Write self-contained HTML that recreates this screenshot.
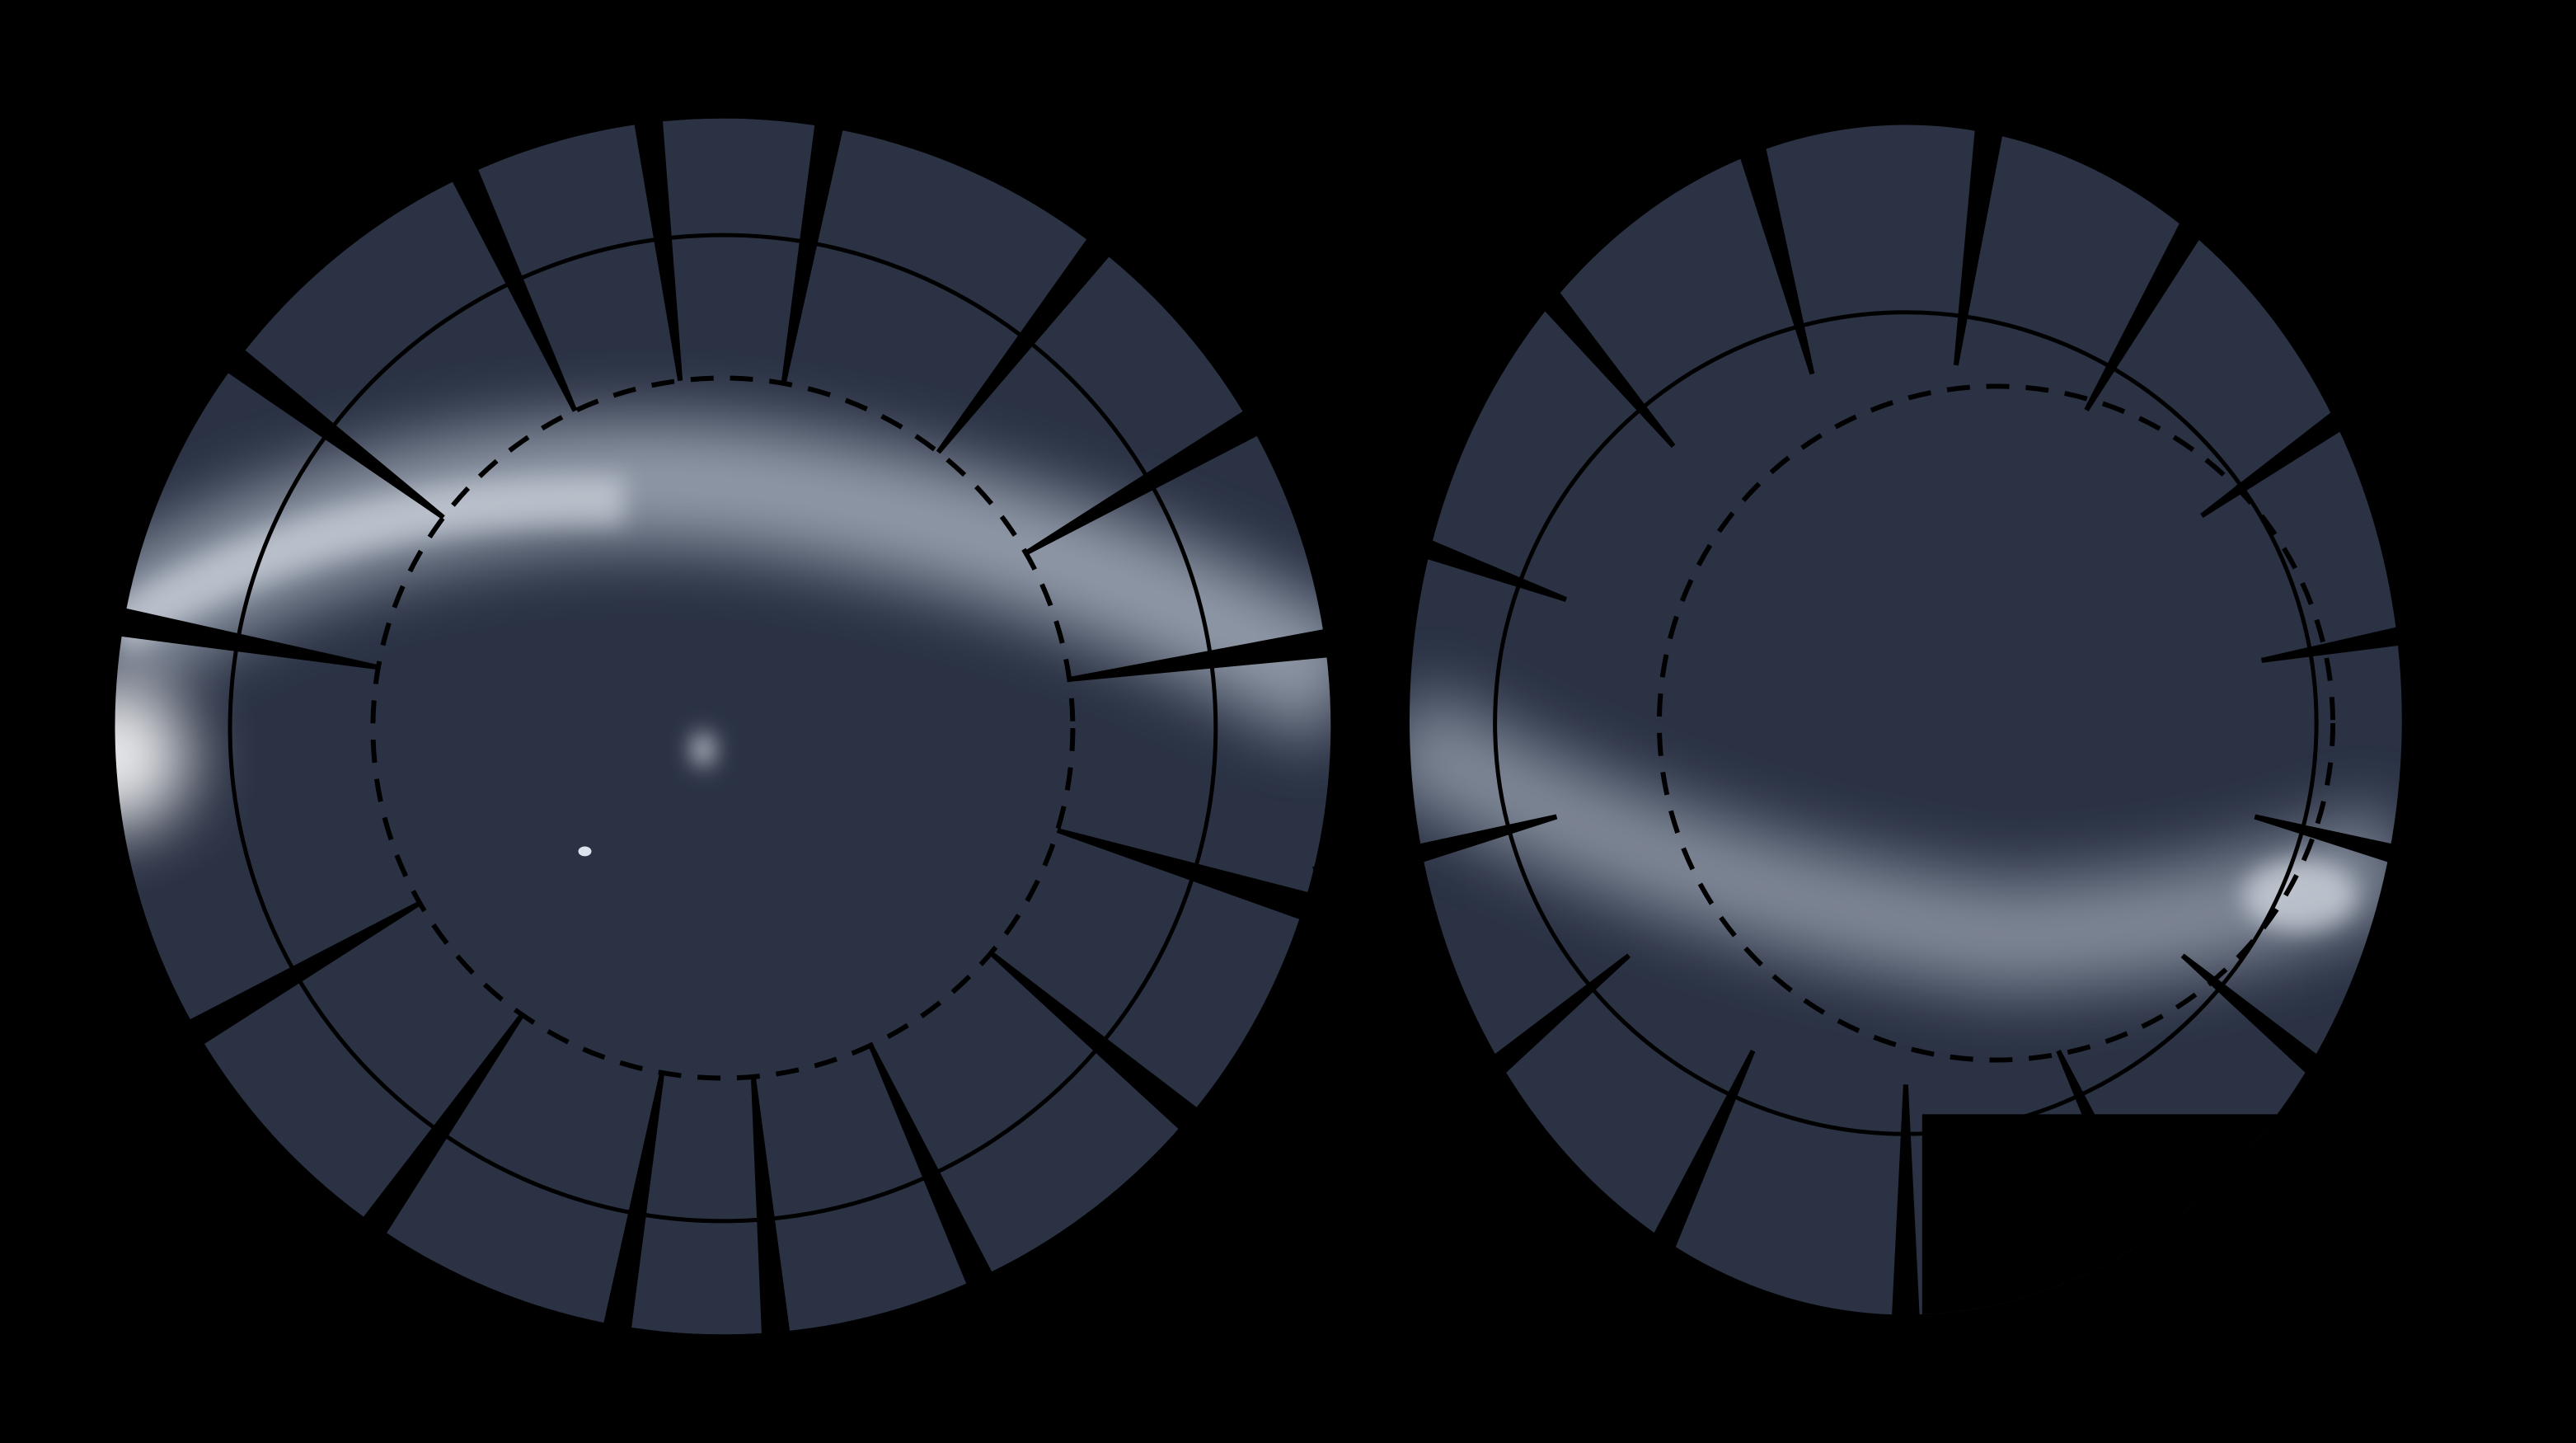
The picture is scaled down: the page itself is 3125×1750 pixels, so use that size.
<!DOCTYPE html>
<html><head><meta charset="utf-8">
<style>
html,body{margin:0;padding:0;background:#000;}
svg{display:block;}
</style></head>
<body>
<svg width="3125" height="1750" viewBox="0 0 1568 878" xmlns="http://www.w3.org/2000/svg">
<defs>
  <filter id="blur" filterUnits="userSpaceOnUse" x="0" y="0" width="1568" height="878"><feGaussianBlur stdDeviation="20"/></filter>
  <filter id="blur2" filterUnits="userSpaceOnUse" x="0" y="0" width="1568" height="878"><feGaussianBlur stdDeviation="7"/></filter>
  <clipPath id="clipL"><circle cx="440" cy="442" r="370"/></clipPath>
  <clipPath id="clipR"><ellipse cx="1160" cy="438" rx="302" ry="362"/></clipPath>
</defs>
<rect width="1568" height="878" fill="#000"/>
<g id="left" clip-path="url(#clipL)">
  <circle cx="440" cy="442" r="370" fill="#2a3244"/>
  <path d="M60,390 Q230,280 440,295 Q630,315 820,420" stroke="#bcc5d2" stroke-width="75" fill="none" filter="url(#blur)" opacity="0.7"/>
  <path d="M70,385 Q200,300 380,305" stroke="#e6ebf2" stroke-width="30" fill="none" filter="url(#blur2)" opacity="0.5"/>
  <ellipse cx="70" cy="460" rx="45" ry="45" fill="#fff" filter="url(#blur)" opacity="0.9"/>
  <ellipse cx="428" cy="456" rx="6" ry="10" fill="#dde3ec" filter="url(#blur2)"/>
  <ellipse cx="356" cy="518" rx="4" ry="3" fill="#dde3ec"/>
</g>
<g id="right" clip-path="url(#clipR)">
  <rect x="850" y="70" width="620" height="740" fill="#2a3244"/>
  <path d="M850,445 Q1020,545 1220,570 Q1360,565 1460,520" stroke="#bcc5d2" stroke-width="65" fill="none" filter="url(#blur)" opacity="0.6"/>
  <ellipse cx="1400" cy="545" rx="35" ry="22" fill="#e6ebf2" filter="url(#blur2)" opacity="0.6"/>
  <rect x="1170" y="678" width="300" height="200" fill="#000"/>
</g>
<g id="lines" stroke="#000" fill="none"></g>
<script>
const leftAngles=[-170,-143,-115,-97,-80,-52,-30,-8,17,40,65,85,100,125,150];
const rightAngles=[-160,-130,-105,-82,-60,-35,-10,15,40,65,90,115,140,165];
const ns='http://www.w3.org/2000/svg';
const g=document.getElementById('lines');
function rays(cx,cy,r0,r1,angs,prefix){
  angs.forEach((a,i)=>{
    const t=a*Math.PI/180;
    const p=document.createElementNS(ns,'path');
    const x0=cx+r0*Math.cos(t),y0=cy+r0*Math.sin(t);
    const t1=t+0.02,t2=t-0.02;
    const d=`M${x0},${y0} L${cx+r1*Math.cos(t1)},${cy+r1*Math.sin(t1)} L${cx+r1*Math.cos(t2)},${cy+r1*Math.sin(t2)} Z`;
    p.setAttribute('d',d);p.setAttribute('fill','#000');p.setAttribute('stroke','#000');p.setAttribute('stroke-width','3');
    
    
    g.appendChild(p);
  });
}
function ring(cx,cy,r,dash,w,name){
  const c=document.createElementNS(ns,'circle');
  c.setAttribute('cx',cx);c.setAttribute('cy',cy);c.setAttribute('r',r);
  c.setAttribute('stroke-width',w);if(dash)c.setAttribute('stroke-dasharray',dash);
  
  
  g.appendChild(c);
}
ring(440,443,213,'14 10',3,'inner-ring-left');
ring(440,443,300,null,2.5,'middle-ring-left');
ring(1215,440,205,'14 10',3,'inner-ring-right');
ring(1160,440,250,null,2.5,'middle-ring-right');
rays(440,443,213,380,leftAngles,'left');
rays(1160,440,220,370,rightAngles,'right');
</script>
</svg>
</body></html>
